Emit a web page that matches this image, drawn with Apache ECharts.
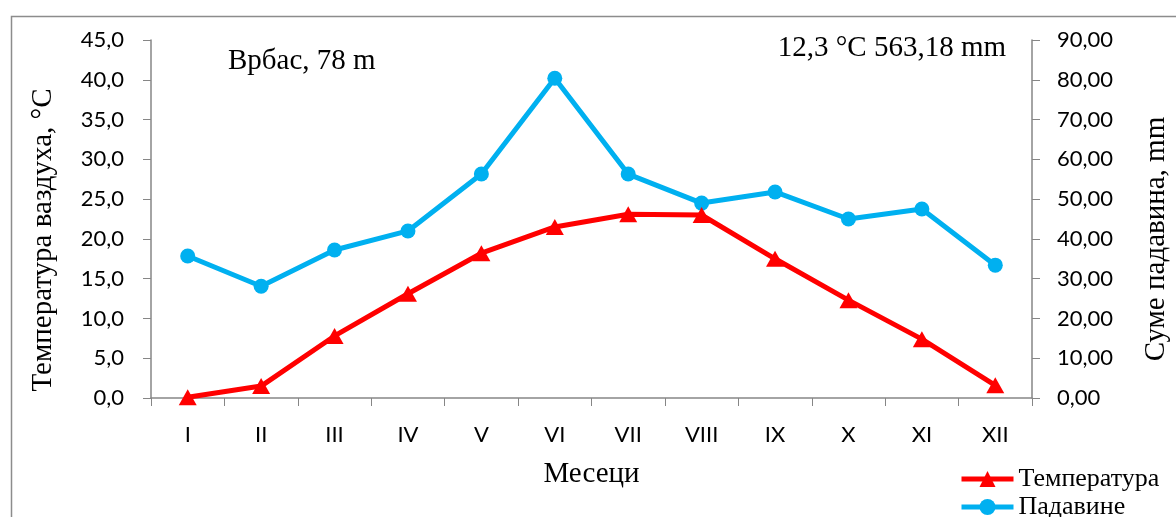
<!DOCTYPE html>
<html><head><meta charset="utf-8">
<script src="https://cdn.jsdelivr.net/npm/echarts@6/dist/echarts.min.js"></script>
<style>html,body{margin:0;padding:0;background:#fff}#c{width:1176px;height:517px}</style>
</head><body><div id="c"></div>
<script>
const months = ['I','II','III','IV','V','VI','VII','VIII','IX','X','XI','XII'];
const temperature = [0.1, 1.5, 7.8, 13.1, 18.2, 21.5, 23.1, 23.0, 17.5, 12.3, 7.4, 1.6];
const precipitation = [35.7, 28.1, 37.2, 42.0, 56.3, 80.4, 56.3, 49.0, 51.8, 45.0, 47.5, 33.4];
const stationLabel = 'Врбас, 78 m';
const summaryLabel = '12,3 °C 563,18 mm';
const leftAxisName = 'Температура ваздуха, °C';
const rightAxisName = 'Суме падавина, mm';

const chart = echarts.init(document.getElementById('c'));
const sans = 'Lato';
const serif = 'Liberation Serif';
const axisGray = '#868686';
const legendText = {fontFamily:serif, fontSize:26, color:'#000'};
chart.setOption({
  animation: false,
  backgroundColor: '#fff',
  graphic: [
    {type:'rect', left:9, top:14, shape:{width:1200, height:540}, style:{fill:'none', stroke:'#8c8c8c', lineWidth:1.5}, silent:true, z:-1},
    {type:'text', left:228, top:47, style:{text:stationLabel, font:'29px "Liberation Serif"', fill:'#000'}},
    {type:'text', right:170, top:34, style:{text:summaryLabel, font:'29px "Liberation Serif"', fill:'#000'}},
    {type:'text', x:43, y:240, rotation:Math.PI/2, style:{text:leftAxisName, font:'29px "Liberation Serif"', fill:'#000', align:'center', verticalAlign:'middle'}},
    {type:'text', x:1156, y:239, rotation:Math.PI/2, style:{text:rightAxisName, font:'29px "Liberation Serif"', fill:'#000', align:'center', verticalAlign:'middle'}}
  ],
  grid: {left:151, right:144, top:40, bottom:119},
  legend: [
    {left:954, top:461, itemWidth:52, itemHeight:20, lineStyle:{width:5}, textStyle:legendText, data:['Температура']},
    {left:954, top:489, itemWidth:52, itemHeight:20, lineStyle:{width:5}, textStyle:legendText, data:['Падавине']}
  ],
  xAxis: {
    type:'category', data:months, boundaryGap:true,
    name:'Месеци', nameLocation:'middle', nameGap:62,
    nameTextStyle:{fontFamily:serif, fontSize:29, color:'#000'},
    axisLine:{lineStyle:{color:axisGray, width:1.5}},
    axisTick:{show:true, alignWithLabel:false, length:8, lineStyle:{color:axisGray}},
    axisLabel:{margin:26, fontFamily:sans, fontSize:22, color:'#000'}
  },
  yAxis: [
    {
      type:'value', min:0, max:45, interval:5, position:'left',
      axisLine:{show:true, lineStyle:{color:axisGray, width:1.5}},
      axisTick:{show:true, length:8, lineStyle:{color:axisGray}},
      splitLine:{show:false},
      axisLabel:{margin:27, fontFamily:sans, fontSize:22, color:'#000', formatter:v=>v.toFixed(1).replace('.',',')}
    },
    {
      type:'value', min:0, max:90, interval:10, position:'right',
      axisLine:{show:true, lineStyle:{color:axisGray, width:1.5}},
      axisTick:{show:true, length:8, lineStyle:{color:axisGray}},
      splitLine:{show:false},
      axisLabel:{margin:25, fontFamily:sans, fontSize:22, color:'#000', formatter:v=>v.toFixed(2).replace('.',',')}
    }
  ],
  series: [
    {
      name:'Температура', type:'line', yAxisIndex:0, data:temperature,
      symbol:'triangle', symbolSize:[18,16], showAllSymbol:true,
      lineStyle:{color:'#ff0000', width:5}, itemStyle:{color:'#ff0000'}, z:3
    },
    {
      name:'Падавине', type:'line', yAxisIndex:1, data:precipitation,
      symbol:'circle', symbolSize:15, showAllSymbol:true,
      lineStyle:{color:'#00b0f0', width:5}, itemStyle:{color:'#00b0f0'}, z:2
    }
  ]
});
</script></body></html>
